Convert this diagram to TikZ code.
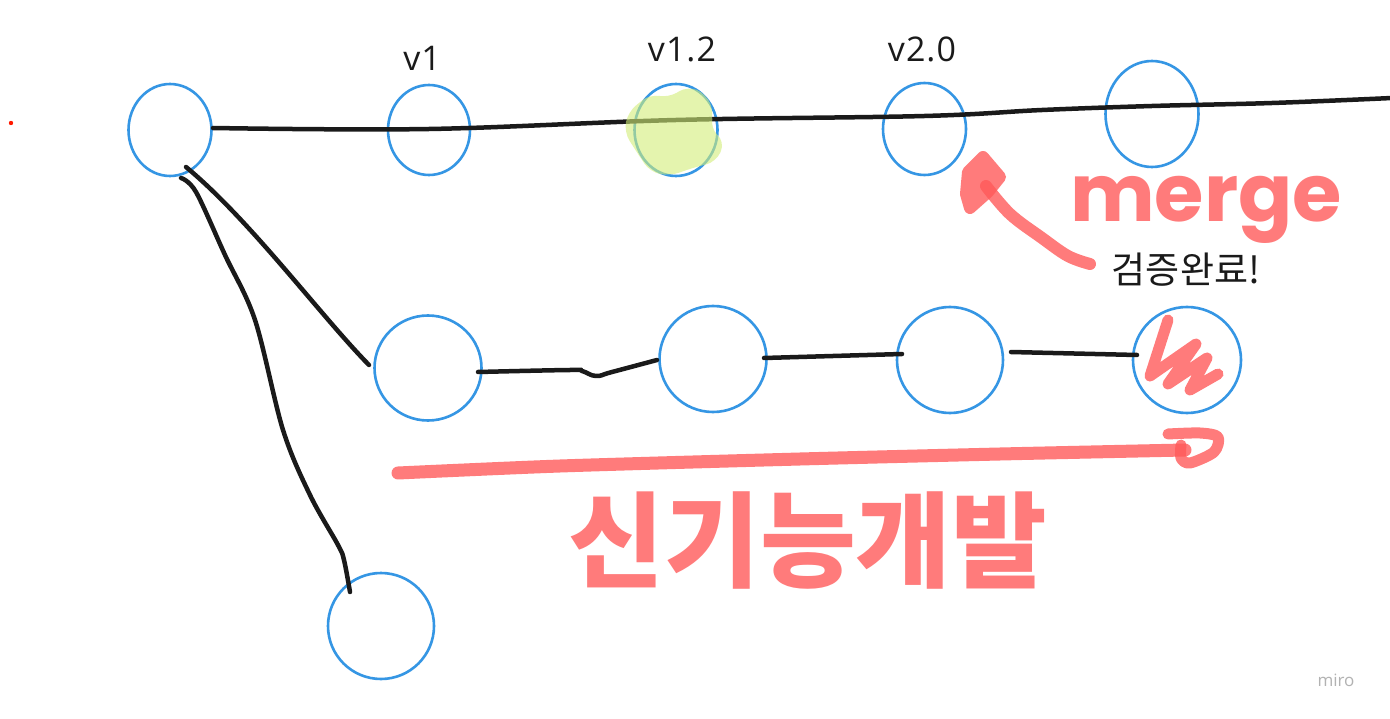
\documentclass[tikz,border=0pt]{standalone}
\usepackage{fontspec}
\setmainfont{Open Sans}
\newfontfamily\kr{Noto Sans CJK KR}
\newfontfamily\hand{Poppins}
\usetikzlibrary{shapes.geometric,calc}
\definecolor{cblue}{RGB}{53,150,228}
\definecolor{ink}{RGB}{26,26,26}
\definecolor{pinkc}{RGB}{255,90,90}
\definecolor{pinksolid}{RGB}{255,123,123}
\definecolor{hlgreen}{RGB}{210,238,120}
\tikzset{
  commit/.style={draw=cblue, line width=2.6pt, ellipse, inner sep=0pt},
  ink/.style={draw=ink, line width=4.5pt, line cap=round, line join=round},
  pen/.style={draw=pinkc, line width=13pt, line cap=round, line join=round, draw opacity=0.8},
  tag/.style={font=\addfontfeature{LetterSpace=3}\fontsize{34}{34}\selectfont, text=ink},
}
\begin{document}
\begin{tikzpicture}[x=1pt,y=-1pt]
\useasboundingbox (0,0) rectangle (1390,719);
\fill[white] (0,0) rectangle (1390,719);
% commits
\node[commit, minimum width=83pt, minimum height=92pt] (a) at (170,130) {};
\node[commit, minimum width=82pt, minimum height=90pt] (b) at (429,130) {};
\node[commit, minimum width=83pt, minimum height=92pt] (c) at (676,130) {};
\node[commit, minimum width=83pt, minimum height=92pt] (d) at (924.5,129) {};
\node[commit, minimum width=93pt, minimum height=106pt] (e) at (1152,114) {};
\node[commit, minimum width=107pt, minimum height=105pt] (f) at (428,368) {};
\node[commit, minimum width=107pt, minimum height=106pt] (g) at (713,359) {};
\node[commit, minimum width=106pt, minimum height=106pt] (h) at (950,360) {};
\node[commit, minimum width=108pt, minimum height=106pt] (i) at (1187,360) {};
\node[commit, minimum width=106pt, minimum height=106pt] (j) at (381,626) {};
% tags
\node[tag] (t1) at (422,58) {v1};
\node[tag] (t2) at (682,49) {v1.2};
\node[tag] (t3) at (922,49) {v2.0};
% main line
\coordinate (topend) at (1392,98);
\draw[ink] plot[smooth, tension=0.6] coordinates {([shift={(43,-2)}]a.center) ([shift={(0,-1)}]b.center) ([shift={(0,-10)}]c.center) ([shift={(0,-13)}]d.center) ([shift={(-110,-4)}]e.center) ([shift={(0,-8)}]e.center) ([shift={(120,-11)}]e.center) (topend)};
% branches from a
\draw[ink] ([shift={(16,37)}]a.center) .. controls (250,220) and (320,315) .. ([shift={(-59,-3)}]f.center);
\draw[ink] plot[smooth, tension=0.55] coordinates {([shift={(11,48)}]a.center) (196,192) (225,255) (255,320) (283,430) (310,495) (338,545) (344,560) ([shift={(-31,-34)}]j.center)};
% middle line
\draw[ink] plot[smooth, tension=0.7] coordinates {([shift={(50,4)}]f.center) (570,370) (582,371) (596,376) (612,372) ([shift={(-56,1)}]g.center)};
\draw[ink] ([shift={(51,-1)}]g.center) -- ([shift={(-48,-6)}]h.center);
\draw[ink] ([shift={(61,-8)}]h.center) -- ([shift={(-50,-5)}]i.center);
% highlight on c
\fill[hlgreen, fill opacity=0.6, rounded corners=10pt] (628,112) -- (650,94) -- (668,98) -- (688,86) -- (706,94) -- (714,112) -- (710,128) -- (725,142) -- (716,162) -- (692,168) -- (670,176) -- (650,172) -- (638,154) -- (624,132) -- cycle;
% scribble on i
\draw[pen, line width=11pt] (1168,320) -- (1150,376) -- (1196,344) -- (1168,384) -- (1207,358) -- (1190,390) -- (1218,374);
% merge arrow
\filldraw[draw=pinksolid, fill=pinksolid, line width=12pt, line join=round] (983,157) -- (1000,177) -- (988,192) -- (970,208) -- (966,194) -- (968,172) -- cycle;
\draw[pen, line width=12pt] plot[smooth, tension=0.6] coordinates {(1090,264) (1068,256) (1042,238) (1010,214) (986,186)};
\node[font=\hand\bfseries\fontsize{80}{80}\selectfont, text=pinkc, text opacity=0.8, anchor=base] (merge) at (1206,222) {merge};
\node[font=\kr\fontsize{37}{37}\selectfont, text=ink] (ok) at (1186,270) {검증완료!};
% feature arrow
\coordinate (p1) at (398,473);
\coordinate (p2) at (1185,450);
\draw[pen] plot[smooth, tension=0.4] coordinates {(p1) (560,466) (800,459) (1000,454) (p2)};
\draw[pen, line width=11pt] plot[smooth, tension=0.5] coordinates {(1168,434) (1200,433) (1218,437) (1214,452) (1190,463) (1181,458) (1181,445)};
\node[font=\kr\bfseries\fontsize{104}{104}\selectfont, text=pinkc, text opacity=0.8] (dev) at (808,540) {신기능개발};
% misc
\fill[red!80!orange] (11,123) circle (2.2);
\node[font=\fontsize{17}{17}\selectfont, text=black!30] (miro) at (1336,680) {miro};
\end{tikzpicture}
\end{document}
